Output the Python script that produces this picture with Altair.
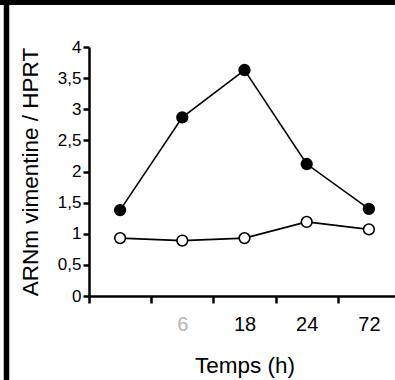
import altair as alt
import pandas as pd

# Time points (h); the first one is the unlabelled control
temps = ["0", "6", "18", "24", "72"]
serie_pleine = [1.38, 2.87, 3.63, 2.12, 1.40]
serie_vide = [0.93, 0.89, 0.93, 1.19, 1.07]
y_ticks = [0, 0.5, 1, 1.5, 2, 2.5, 3, 3.5, 4]

rows = []
for t, a, b in zip(temps, serie_pleine, serie_vide):
    rows.append({"temps": t, "serie": "pleine", "valeur": a})
    rows.append({"temps": t, "serie": "vide", "valeur": b})
df = pd.DataFrame(rows)

FONT = "Liberation Sans"
W, H = 306, 249

x = alt.X(
    "temps:N",
    sort=temps,
    scale=alt.Scale(type="band", range=[0, 311], paddingInner=0, paddingOuter=0),
    axis=alt.Axis(
        title="Temps (h)",
        tickBand="extent",
        labelAngle=0,
        labelExpr="datum.value == '0' ? '' : datum.label",
        labelColor={"condition": {"test": "datum.value == '6'", "value": "#b5b5b5"}, "value": "black"},
        labelFont=FONT,
        labelFontSize=20,
        labelPadding=11,
        titleFont=FONT,
        titleFontSize=22.5,
        titleFontWeight="normal",
        titleColor="black",
        titlePadding=20,
        domainColor="black",
        domainWidth=2.5,
        tickColor="black",
        tickWidth=2.5,
        tickSize=7,
        grid=False,
    ),
)

y = alt.Y(
    "valeur:Q",
    scale=alt.Scale(domain=[0, 4], nice=False, zero=True),
    axis=alt.Axis(
        title="ARNm vimentine / HPRT",
        values=y_ticks,
        labelExpr="replace('' + datum.value, '.', ',')",
        labelFont=FONT,
        labelFontSize=17,
        labelColor="black",
        labelPadding=2,
        titleFont=FONT,
        titleFontSize=22.5,
        titleFontWeight="normal",
        titleColor="black",
        titlePadding=15,
        domainColor="black",
        domainWidth=2.5,
        tickColor="black",
        tickWidth=2.5,
        tickSize=6,
        grid=False,
    ),
)

base = alt.Chart(df)

lines = base.mark_line(color="black", strokeWidth=1.6).encode(x=x, y=y, detail="serie:N")

points = base.mark_point(shape="circle", size=115, stroke="black", strokeWidth=1.6, opacity=1).encode(
    x=x,
    y=y,
    fill=alt.Fill(
        "serie:N",
        scale=alt.Scale(domain=["pleine", "vide"], range=["black", "white"]),
        legend=None,
    ),
)

# Black frame strips along the top and left edges
frame_data = pd.DataFrame({"k": [0]})
left_bar = alt.Chart(frame_data).mark_rule(color="black", strokeWidth=5.5).encode(
    x=alt.value(-82.5), y=alt.value(-47), y2=alt.value(333)
)
top_bar = alt.Chart(frame_data).mark_rule(color="black", strokeWidth=5).encode(
    x=alt.value(-89), x2=alt.value(W), y=alt.value(-44.5)
)

chart = (
    alt.layer(lines, points, left_bar, top_bar)
    .properties(
        width=W,
        height=H,
        padding={"left": 89, "top": 47, "right": 0, "bottom": 84},
        autosize="none",
        background="white",
    )
    .configure_view(strokeWidth=0)
)

chart.save("out.html", embed_options={"renderer": "svg", "actions": False})
